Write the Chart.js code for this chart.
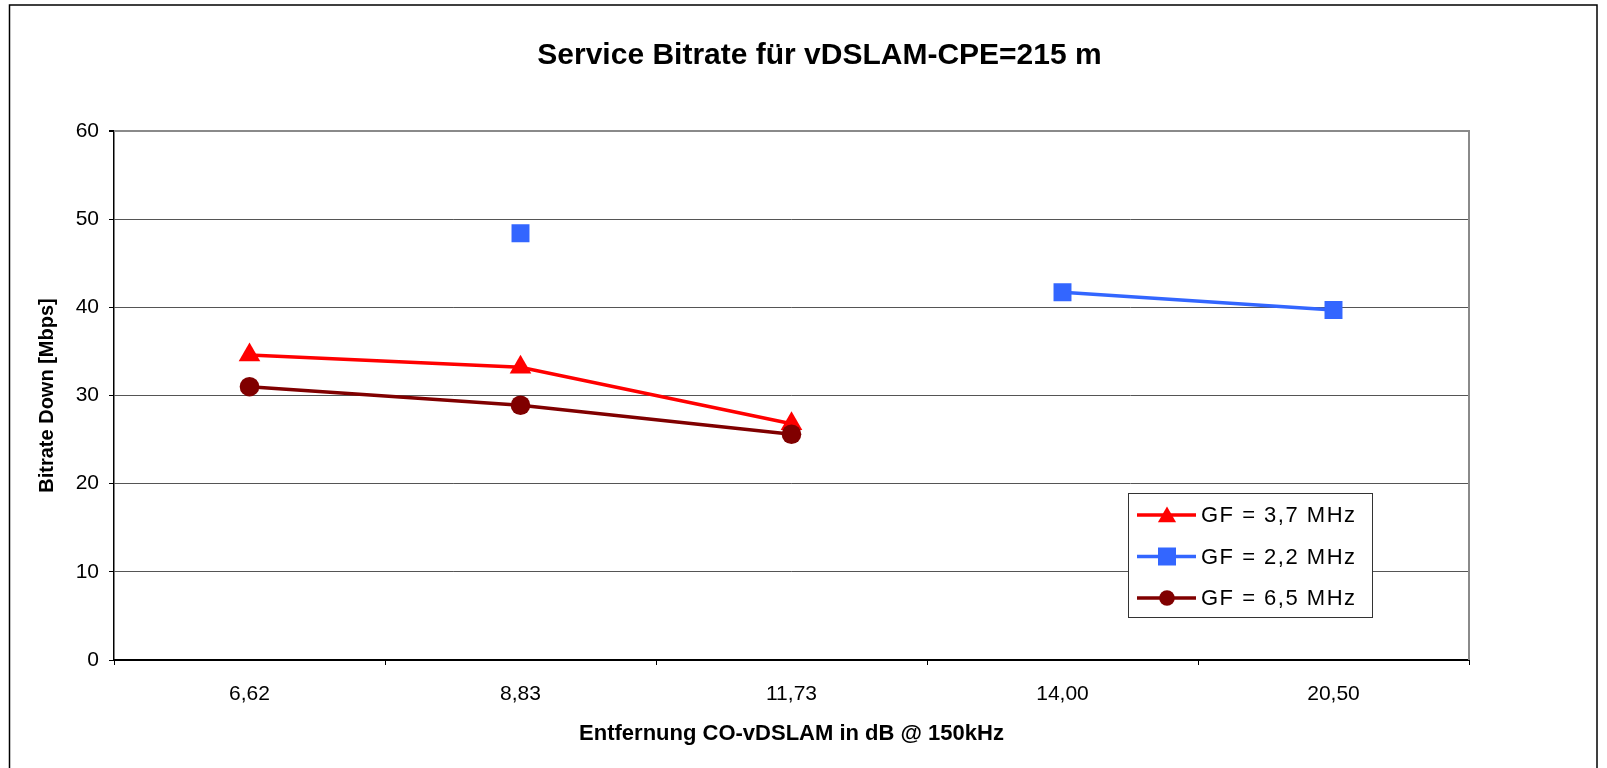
<!DOCTYPE html>
<html>
<head>
<meta charset="utf-8">
<title>Service Bitrate für vDSLAM-CPE=215 m</title>
<script src="https://cdn.jsdelivr.net/npm/chart.js@4.4.1/dist/chart.umd.min.js"></script>
<style>
    html, body { margin: 0; padding: 0; background: #fff; }
    #wrap { width: 1607px; height: 768px; }
</style>
</head>
<body>
<div id="wrap"><canvas id="bitrateChart" width="1607" height="768"></canvas></div>
<script>
// Kategorien (x-Achse) und Messwerte je Grenzfrequenz
const entfernung = ['6,62', '8,83', '11,73', '14,00', '20,50'];
const gf37 = [34.6, 33.2, 26.8, null, null];
const gf22 = [null, 48.4, null, 41.7, 39.7];
const gf65 = [31.0, 28.9, 25.6, null, null];
const serienNamen = ['GF = 3,7 MHz', 'GF = 2,2 MHz', 'GF = 6,5 MHz'];
const yMin = 0, yMax = 60, yStep = 10;

const schrift = "'Liberation Sans', Arial, sans-serif";
Chart.defaults.font.family = schrift;
Chart.defaults.color = '#000';

function zeichneMarker(ctx, stil, x, y, r, farbe) {
    ctx.fillStyle = farbe;
    ctx.beginPath();
    if (stil === 'triangle') {
        ctx.moveTo(x, y - r);
        ctx.lineTo(x + r * 0.866, y + r * 0.5);
        ctx.lineTo(x - r * 0.866, y + r * 0.5);
        ctx.closePath();
    } else if (stil === 'rect') {
        ctx.rect(x - r, y - r, 2 * r, 2 * r);
    } else {
        ctx.arc(x, y, r, 0, Math.PI * 2);
    }
    ctx.fill();
}

// weisser Hintergrund und Rahmen um das ganze Diagramm
const rahmen = {
    id: 'rahmen',
    beforeDraw(chart) {
        const ctx = chart.ctx;
        ctx.save();
        ctx.fillStyle = '#fff';
        ctx.fillRect(0, 0, chart.width, chart.height);
        ctx.strokeStyle = '#000';
        ctx.lineWidth = 1.5;
        ctx.strokeRect(9.5, 5, 1587.5, 800);
        ctx.restore();
    },
    beforeDatasetsDraw(chart) {
        const {ctx, chartArea} = chart;
        ctx.save();
        ctx.strokeStyle = '#8a8a8a';
        ctx.lineWidth = 2;
        ctx.beginPath();
        ctx.moveTo(chartArea.left, chartArea.top);
        ctx.lineTo(chartArea.right, chartArea.top);
        ctx.lineTo(chartArea.right, chartArea.bottom);
        ctx.stroke();
        ctx.restore();
    }
};

// Legende innerhalb der Zeichenfläche, unten rechts
const legendeImDiagramm = {
    id: 'legendeImDiagramm',
    afterDatasetsDraw(chart) {
        const {ctx, chartArea} = chart;
        const x = chartArea.right - 341, y = chartArea.bottom - 167, w = 244, h = 124;
        ctx.save();
        ctx.fillStyle = '#fff';
        ctx.fillRect(x, y, w, h);
        ctx.strokeStyle = '#333';
        ctx.lineWidth = 1;
        ctx.strokeRect(x + 0.5, y + 0.5, w, h);
        const groessen = {triangle: 10.5, rect: 9, circle: 7.8};
        chart.data.datasets.forEach((ds, i) => {
            const ry = y + 22 + i * 41.5;
            ctx.strokeStyle = ds.borderColor;
            ctx.lineWidth = 3.5;
            ctx.beginPath();
            ctx.moveTo(x + 9, ry);
            ctx.lineTo(x + 68, ry);
            ctx.stroke();
            const yVersatz = ds.pointStyle === 'triangle' ? 2 : 0;
            zeichneMarker(ctx, ds.pointStyle, x + 39, ry + yVersatz, groessen[ds.pointStyle], ds.borderColor);
            ctx.fillStyle = '#000';
            ctx.font = '22px ' + schrift;
            ctx.textBaseline = 'middle';
            ctx.letterSpacing = '1.5px';
            ctx.fillText(ds.label, x + 73, ry + 1);
        });
        ctx.restore();
    }
};

const ctxBitrate = document.getElementById('bitrateChart').getContext('2d');
new Chart(ctxBitrate, {
    type: 'line',
    data: {
        labels: entfernung,
        datasets: [
            {
                label: serienNamen[0], data: gf37, order: 2,
                borderColor: '#ff0000', backgroundColor: '#ff0000',
                borderWidth: 3.5, pointStyle: 'triangle', pointRadius: 12.5,
                pointBorderWidth: 0, tension: 0
            },
            {
                label: serienNamen[1], data: gf22, order: 1,
                borderColor: '#3366ff', backgroundColor: '#3366ff',
                borderWidth: 3.5, pointStyle: 'rect', pointRadius: 12.7,
                pointBorderWidth: 0, tension: 0
            },
            {
                label: serienNamen[2], data: gf65, order: 0,
                borderColor: '#800000', backgroundColor: '#800000',
                borderWidth: 3.5, pointStyle: 'circle', pointRadius: 9.8,
                pointBorderWidth: 0, tension: 0
            }
        ]
    },
    options: {
        responsive: false,
        animation: false,
        devicePixelRatio: 1,
        events: [],
        spanGaps: false,
        layout: { padding: { left: 32, right: 0, top: 0, bottom: 0 } },
        plugins: {
            legend: { display: false },
            tooltip: { enabled: false },
            title: {
                display: true,
                text: 'Service Bitrate für vDSLAM-CPE=215 m',
                font: { size: 30, weight: 'bold' },
                color: '#000',
                padding: { top: 38, bottom: 57 }
            }
        },
        scales: {
            x: {
                offset: true,
                grid: { offset: true, drawOnChartArea: false, drawTicks: true, tickLength: 5, tickColor: '#000' },
                border: { color: '#000', width: 2 },
                ticks: { font: { size: 21 }, padding: 17, color: '#000' },
                title: {
                    display: true,
                    text: 'Entfernung CO-vDSLAM in dB @ 150kHz',
                    font: { size: 22, weight: 'bold' },
                    color: '#000',
                    padding: { top: 0, bottom: 20.8 }
                },
                afterFit: s => { s.height = 108; }
            },
            y: {
                min: yMin, max: yMax,
                grid: {
                    color: c => c.tick.value === yMax ? '#8a8a8a' : (c.tick.value === yMin ? 'rgba(0,0,0,0)' : '#555'),
                    lineWidth: c => c.tick.value === yMax ? 2 : 1,
                    tickLength: 5, tickColor: '#000'
                },
                border: { color: '#000', width: 1.5 },
                ticks: { stepSize: yStep, font: { size: 21 }, padding: 10, color: '#000' },
                title: {
                    display: true,
                    text: 'Bitrate Down [Mbps]',
                    font: { size: 20, weight: 'bold' },
                    color: '#000',
                    padding: { top: 3, bottom: 0 }
                },
                afterFit: s => { s.width = 82; }
            },
            rechts: {
                position: 'right',
                display: true,
                grid: { display: false, drawTicks: false },
                border: { display: false },
                ticks: { display: false },
                afterFit: s => { s.width = 138; }
            }
        }
    },
    plugins: [rahmen, legendeImDiagramm]
});
</script>
</body>
</html>
